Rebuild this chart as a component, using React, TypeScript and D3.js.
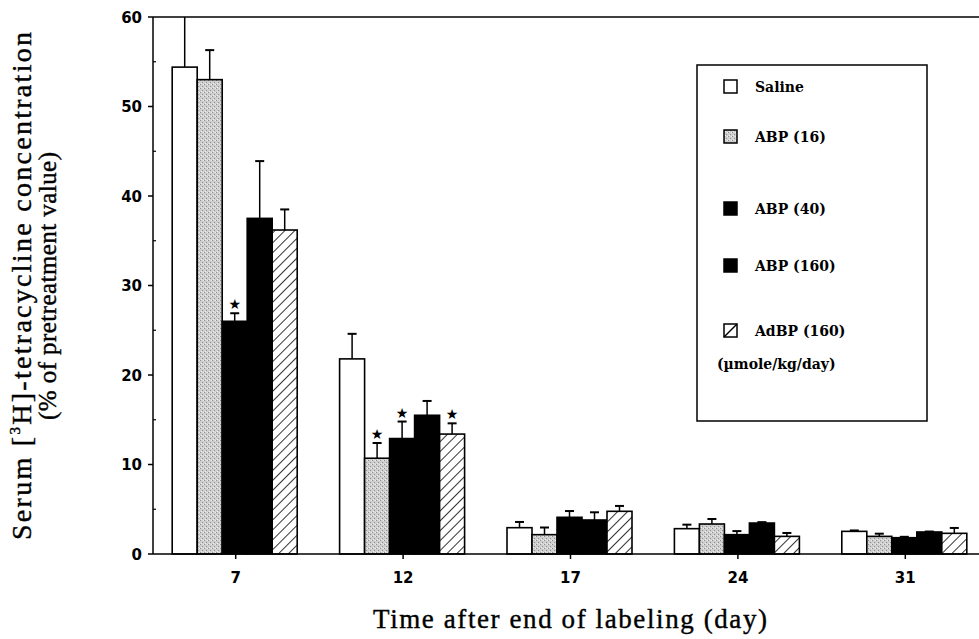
import * as d3 from "d3";

const days = ["7", "12", "17", "24", "31"];
const groups = ["Saline", "ABP (16)", "ABP (40)", "ABP (160)", "AdBP (160)"];

// mean values (% of pretreatment) per day
const saline = [54.4, 21.8, 2.94, 2.83, 2.53];
const abp16 = [53.0, 10.7, 2.16, 3.35, 1.97];
const abp40 = [26.0, 12.9, 4.1, 2.16, 1.82];
const abp160 = [37.5, 15.5, 3.8, 3.46, 2.46];
const adbp160 = [36.2, 13.4, 4.77, 1.97, 2.31];

// upper error (SEM)
const salineErr = [8, 2.8, 0.64, 0.45, 0.1];
const abp16Err = [3.3, 1.7, 0.8, 0.56, 0.3];
const abp40Err = [0.9, 1.9, 0.7, 0.4, 0.1];
const abp160Err = [6.4, 1.6, 0.86, 0.1, 0.05];
const adbp160Err = [2.3, 1.2, 0.6, 0.38, 0.6];

// significant differences (series, day)
const starMarks: [string, string][] = [
  ["ABP (40)", "7"],
  ["ABP (16)", "12"],
  ["ABP (40)", "12"],
  ["AdBP (160)", "12"],
];

const yTicks = [0, 10, 20, 30, 40, 50, 60];

const W = 979;
const H = 639;
const left = 153;
const top = 17;
const bottom = 554;
const right = 979;

const series = [
  { name: groups[0], values: saline, err: salineErr, fill: "#fff" },
  { name: groups[1], values: abp16, err: abp16Err, fill: "url(#stipple)" },
  { name: groups[2], values: abp40, err: abp40Err, fill: "#000" },
  { name: groups[3], values: abp160, err: abp160Err, fill: "#000" },
  { name: groups[4], values: adbp160, err: adbp160Err, fill: "url(#hatch)" },
];

const serif = "'Liberation Serif', 'DejaVu Serif', serif";
const wideSerif = "'DejaVu Serif', serif";
const tickFont = "'DejaVu Sans', Verdana, sans-serif";

export default function App() {
  const x = d3.scaleBand().domain(days).range([151, 988]);
  const inner = d3.scaleBand().domain(groups).range([-62.5, 62.5]);
  const y = d3.scaleLinear().domain([0, 60]).range([bottom, top]);
  const cx = (d: string) => (x(d) as number) + x.bandwidth() / 2;
  const bw = inner.bandwidth();

  const legendY = [92, 142, 214, 271, 336];

  return (
    <svg
      width={W}
      height={H}
      style={{ position: "absolute", left: 0, top: 0, background: "#fff" }}
      fontFamily={serif}
    >
      <defs>
        <pattern id="stipple" width="4" height="4" patternUnits="userSpaceOnUse">
          <rect width="4" height="4" fill="#cfcfcf" />
          <rect x="0" y="0" width="1" height="1" fill="#8f8f8f" />
          <rect x="2" y="2" width="1" height="1" fill="#8f8f8f" />
          <rect x="3" y="0" width="1" height="1" fill="#ececec" />
          <rect x="1" y="3" width="1" height="1" fill="#ececec" />
        </pattern>
        <pattern
          id="hatch"
          width="7"
          height="7"
          patternUnits="userSpaceOnUse"
          patternTransform="rotate(45)"
        >
          <rect width="7" height="7" fill="#fff" />
          <line x1="0" y1="0" x2="0" y2="7" stroke="#000" strokeWidth="1.6" />
        </pattern>
        <clipPath id="plot">
          <rect x={left} y={top} width={right - left} height={bottom - top + 2} />
        </clipPath>
      </defs>

      {/* bars */}
      <g clipPath="url(#plot)">
        {series.map((s) =>
          days.map((d, i) => {
            const bx = cx(d) + (inner(s.name) as number);
            const v = s.values[i];
            const e = s.err[i];
            const mx = bx + bw / 2;
            return (
              <g key={s.name + d}>
                <line x1={mx} x2={mx} y1={y(v)} y2={y(v + e)} stroke="#000" strokeWidth={1.5} />
                <line x1={mx - 4.5} x2={mx + 4.5} y1={y(v + e)} y2={y(v + e)} stroke="#000" strokeWidth={2} />
                <rect
                  x={bx}
                  y={y(v)}
                  width={bw}
                  height={bottom - y(v)}
                  fill={s.fill}
                  stroke="#000"
                  strokeWidth={1.6}
                />
              </g>
            );
          })
        )}
      </g>

      {/* stars */}
      {starMarks.map(([name, d]) => {
        const s = series.find((q) => q.name === name)!;
        const i = days.indexOf(d);
        const mx = cx(d) + (inner(name) as number) + bw / 2;
        return (
          <text
            key={name + d}
            x={mx}
            y={y(s.values[i] + s.err[i]) - 4}
            textAnchor="middle"
            fontSize={14}
            fontFamily="'DejaVu Sans', sans-serif"
          >
            ★
          </text>
        );
      })}

      {/* frame */}
      <line x1={left} x2={right} y1={top} y2={top} stroke="#000" strokeWidth={1.5} />
      <line x1={left} x2={right} y1={bottom} y2={bottom} stroke="#000" strokeWidth={1.5} />
      <line x1={left} x2={left} y1={top} y2={bottom} stroke="#000" strokeWidth={1.5} />

      {/* y ticks */}
      {y.ticks(12).map((t) =>
        t % 10 === 0 ? (
          <line key={t} x1={left - 5} x2={left} y1={y(t)} y2={y(t)} stroke="#000" strokeWidth={1.5} />
        ) : (
          <line key={t} x1={left} x2={left + 3} y1={y(t)} y2={y(t)} stroke="#000" strokeWidth={1.2} />
        )
      )}
      {yTicks.map((t) => (
        <text
          key={"l" + t}
          x={left - 11}
          y={y(t) + 5.5}
          textAnchor="end"
          fontSize={15}
          fontWeight="bold"
          fontFamily={tickFont}
        >
          {t}
        </text>
      ))}

      {/* x ticks */}
      {days.map((d) => (
        <g key={"x" + d}>
          <line x1={cx(d) + 1} x2={cx(d) + 1} y1={bottom} y2={bottom + 5} stroke="#000" strokeWidth={1.5} />
          <text
            x={cx(d) + 1}
            y={bottom + 29}
            textAnchor="middle"
            fontSize={15}
            fontWeight="bold"
            fontFamily={tickFont}
          >
            {d}
          </text>
        </g>
      ))}

      {/* axis titles */}
      <text
        x={570}
        y={628}
        textAnchor="middle"
        fontSize={27}
        textLength={394}
        lengthAdjust="spacing"
        stroke="#000"
        strokeWidth={0.4}
      >
        Time after end of labeling (day)
      </text>
      <g transform="translate(31,286) rotate(-90)" stroke="#000" strokeWidth={0.4}>
        <text x={0} y={0} textAnchor="middle" fontSize={28} textLength={508} lengthAdjust="spacing">
          Serum{"  "}[<tspan fontSize={15} dy={-11}>3</tspan>
          <tspan dy={11}>H]-tetracycline{"  "}concentration</tspan>
        </text>
        <text x={0} y={25} textAnchor="middle" fontSize={25} textLength={268} lengthAdjust="spacing">
          (% of pretreatment value)
        </text>
      </g>

      {/* legend */}
      <rect x={697} y={65} width={230} height={356} fill="#fff" stroke="#000" strokeWidth={1.5} />
      {series.map((s, i) => (
        <g key={"lg" + s.name}>
          <rect x={724} y={legendY[i] - 12} width={13} height={13} fill={s.fill === "url(#hatch)" ? "#fff" : s.fill} stroke="#000" strokeWidth={1.5} />
          {s.fill === "url(#hatch)" && (
            <line x1={724} y1={legendY[i] + 1} x2={737} y2={legendY[i] - 12} stroke="#000" strokeWidth={1.5} />
          )}
          <text x={755} y={legendY[i]} fontSize={14} fontWeight="bold" fontFamily={wideSerif}>
            {s.name}
          </text>
        </g>
      ))}
      <text x={717} y={369} fontSize={14} fontWeight="bold" fontFamily={wideSerif}>
        (µmole/kg/day)
      </text>
    </svg>
  );
}
